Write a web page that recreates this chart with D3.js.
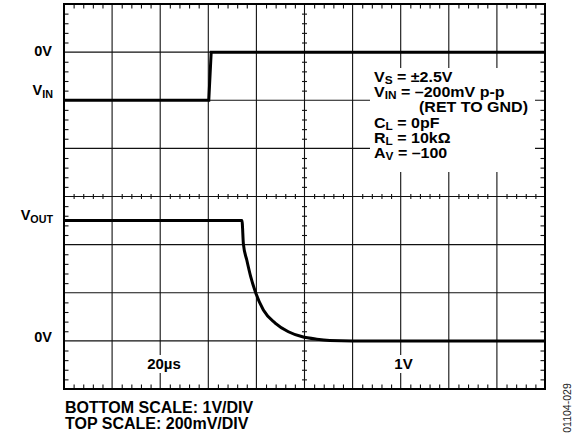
<!DOCTYPE html>
<html><head><meta charset="utf-8">
<script src="https://cdn.jsdelivr.net/npm/d3@7"></script>
<style>body{margin:0;background:#fff}</style>
</head><body>
<svg id="c" width="583" height="438"></svg>
<script>
// ---- data ----
const gridTimesUs = [0, 20, 40, 60, 80, 100, 120, 140, 160, 180, 200]; // 20µs/div
const gridDivs = [0, 1, 2, 3, 4, 5, 6, 7, 8];
const vinTimeUs = [0, 60.2, 61.2, 200];
const vinMv = [-200, -200, 0, 0];            // top trace, 200mV/div
const voutTimeUs = [0, 74.0, 74.6, 76.0, 77.6, 79.7, 82.9, 87.8, 93.3, 98.8, 105.1, 110.5, 120, 200];
const voutV = [2.5, 2.5, 2.01, 1.68, 1.34, 1.00, 0.64, 0.37, 0.19, 0.09, 0.035, 0.01, 0, 0]; // bottom trace, 1V/div
const noteLines = [
  [["V",""],["S","sub"],[" = ±2.5V",""]],
  [["V",""],["IN","sub"],[" = –200mV p-p",""]],
  [["(RET TO GND)",""]],
  [["C",""],["L","sub"],[" = 0pF",""]],
  [["R",""],["L","sub"],[" = 10kΩ",""]],
  [["A",""],["V","sub"],[" = –100",""]]
];
const footLines = ["BOTTOM SCALE: 1V/DIV", "TOP SCALE: 200mV/DIV"];
const figId = "01104-029";

// ---- layout ----
const L = 64, R = 545, T = 4, B = 389;
const svg = d3.select("#c");
const x = d3.scaleLinear().domain([0, 200]).range([L, R]);
const yDiv = d3.scaleLinear().domain([0, 8]).range([B, T]);
const yOut = d3.scaleLinear().domain([-1, 7]).range([B, T]);     // 0V at division 1
const yIn = d3.scaleLinear().domain([-1400, 200]).range([B, T]);  // 0V at division 7
const mx = d3.range(0, 200.001, 4).filter(d => d % 20 !== 0);
const my = d3.range(1, 40).filter(d => d % 5 !== 0).map(d => d / 5);
const FONT = "'Liberation Sans', Arial, Helvetica, sans-serif";

svg.append("rect").attr("width", 583).attr("height", 438).attr("fill", "#fff");

// grid
const grid = svg.append("g").attr("stroke", "#111").attr("stroke-width", 1.1);
grid.selectAll("line.v").data(gridTimesUs).join("line").attr("class", "v")
  .attr("x1", d => x(d)).attr("x2", d => x(d)).attr("y1", T).attr("y2", B);
grid.selectAll("line.h").data(gridDivs).join("line").attr("class", "h")
  .attr("x1", L).attr("x2", R).attr("y1", d => yDiv(d)).attr("y2", d => yDiv(d));

// minor ticks via axes
const tl = 4.5, tc = 2.5;
function tickAxis(axis, tx, ty) {
  const g = svg.append("g").attr("transform", `translate(${tx},${ty})`).call(axis);
  g.select(".domain").remove();
  g.selectAll(".tick line").attr("stroke", "#111").attr("stroke-width", 1.1);
  g.selectAll(".tick text").remove();
}
tickAxis(d3.axisBottom(x).tickValues(mx).tickSize(tl).tickFormat(""), 0, T);
tickAxis(d3.axisTop(x).tickValues(mx).tickSize(tl).tickFormat(""), 0, B);
tickAxis(d3.axisBottom(x).tickValues(mx).tickSize(2 * tc).tickFormat(""), 0, yDiv(4) - tc);
tickAxis(d3.axisRight(yDiv).tickValues(my).tickSize(tl).tickFormat(""), L, 0);
tickAxis(d3.axisLeft(yDiv).tickValues(my).tickSize(tl).tickFormat(""), R, 0);
tickAxis(d3.axisRight(yDiv).tickValues(my).tickSize(2 * tc).tickFormat(""), x(100) - tc, 0);

// white boxes behind text
svg.append("rect").attr("x", 370).attr("y", 68).attr("width", 165).attr("height", 104).attr("fill", "#fff");
svg.append("rect").attr("x", 144).attr("y", 355).attr("width", 40).attr("height", 18).attr("fill", "#fff");
svg.append("rect").attr("x", 391).attr("y", 355).attr("width", 25).attr("height", 18).attr("fill", "#fff");

// frame
svg.append("rect").attr("x", L).attr("y", T).attr("width", R - L).attr("height", B - T)
  .attr("fill", "none").attr("stroke", "#000").attr("stroke-width", 2);

// traces
const vinLine = d3.line().x((d, i) => x(vinTimeUs[i])).y(d => yIn(d));
svg.append("path").attr("d", vinLine(vinMv)).attr("fill", "none")
  .attr("stroke", "#000").attr("stroke-width", 3).attr("stroke-linejoin", "miter");
const voutLine = d3.line().x((d, i) => x(voutTimeUs[i])).y(d => yOut(d)).curve(d3.curveMonotoneX);
svg.append("path").attr("d", voutLine(voutV)).attr("fill", "none")
  .attr("stroke", "#000").attr("stroke-width", 3);

// labels
function label(parts, px, py, size, anchor, sy) {
  const t = svg.append("text")
    .attr("transform", `translate(${px},${py}) scale(1,${sy || 1})`)
    .attr("font-family", FONT).attr("font-weight", "bold").attr("font-size", size)
    .attr("text-anchor", anchor || "start").attr("fill", "#000");
  parts.forEach(([s, k], i) => {
    const sp = t.append("tspan").text(s);
    if (k === "sub") sp.attr("font-size", size * 0.74).attr("dy", 2.5);
    else if (i > 0 && parts[i - 1][1] === "sub") sp.attr("dy", -2.5);
  });
  return t;
}
label([["0V",""]], 52, yIn(0) + 4, 14.5, "end");
label([["V",""],["IN","sub"]], 53, yIn(-200) - 5, 14.5, "end");
label([["V",""],["OUT","sub"]], 53, yOut(2.5) - 0.5, 14.5, "end");
label([["0V",""]], 52, yOut(0) + 1, 14.5, "end");
label([["20µs",""]], 164, 369, 15, "middle");
label([["1V",""]], 403.5, 369, 15, "middle");

const noteY = [81.7, 96.7, 112, 128, 142.5, 158];
noteLines.forEach((ln, i) => {
  if (i === 2) label(ln, 528, noteY[i], 16, "end", 0.88);
  else label(ln, 374, noteY[i], 16, "start", 0.88);
});

label([[footLines[0], ""]], 65, 412.5, 16);
label([[footLines[1], ""]], 65, 428.5, 16);

svg.append("text").attr("transform", "translate(571,408) rotate(-90)")
  .attr("text-anchor", "middle").attr("font-family", FONT).attr("font-size", 10.5)
  .attr("fill", "#222").text(figId);
</script>
</body></html>
